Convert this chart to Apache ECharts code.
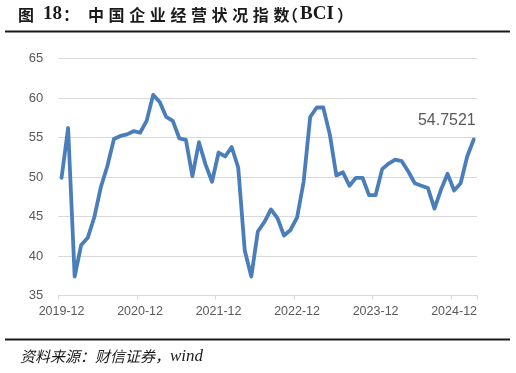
<!DOCTYPE html>
<html>
<head>
<meta charset="utf-8">
<script src="https://cdn.jsdelivr.net/npm/echarts@6/dist/echarts.min.js"></script>
<style>
html,body{margin:0;padding:0;background:#fff;}
#c{width:516px;height:373px;}
</style>
</head>
<body>
<div id="c"></div>
<script>
// ---- data ----
const categories = [
'2019-12',
'2020-01','2020-02','2020-03','2020-04','2020-05','2020-06','2020-07','2020-08','2020-09','2020-10','2020-11','2020-12',
'2021-01','2021-02','2021-03','2021-04','2021-05','2021-06','2021-07','2021-08','2021-09','2021-10','2021-11','2021-12',
'2022-01','2022-02','2022-03','2022-04','2022-05','2022-06','2022-07','2022-08','2022-09','2022-10','2022-11','2022-12',
'2023-01','2023-02','2023-03','2023-04','2023-05','2023-06','2023-07','2023-08','2023-09','2023-10','2023-11','2023-12',
'2024-01','2024-02','2024-03','2024-04','2024-05','2024-06','2024-07','2024-08','2024-09','2024-10','2024-11','2024-12',
'2025-01','2025-02','2025-03'
];
const bciValues = [
49.9,
56.2,37.4,41.4,42.3,44.9,48.7,51.4,54.8,55.2,55.4,55.8,55.6,
57.1,60.4,59.5,57.6,57.1,54.9,54.7,50.1,54.4,51.6,49.4,53.1,
52.6,53.8,51.2,40.7,37.4,43.1,44.3,45.9,44.8,42.6,43.3,44.9,
49.4,57.6,58.8,58.8,55.4,50.2,50.6,48.9,49.9,49.9,47.7,47.7,
51.0,51.7,52.2,52.0,50.7,49.2,48.9,48.6,46.0,48.4,50.4,48.3,
49.2,52.6,54.7521
];
const yTicks = {min: 35, max: 65, interval: 5};
const titleParts = ['图', '18', '：', '中','国','企','业','经','营','状','况','指','数', '（', 'BCI', '）'];
const sourceText = '资料来源：财信证券，';
const sourceLatin = 'wind';

// ---- chart ----
const chart = echarts.init(document.getElementById('c'), null, {renderer: 'canvas'});

const lastIdx = bciValues.length - 1;

// title characters placed individually (wide spacing in reference)
const titleX = [18, 43, 63, 88, 108.6, 129.2, 149.8, 170.4, 191, 211.6, 232.2, 252.8, 273.4, 282, 300, 337];
const graphics = [];
titleParts.forEach((t, k) => {
  const latin = /^[0-9A-Z]+$/.test(t);
  graphics.push({
    type: 'text', left: titleX[k], top: latin ? 5 : 7,
    style: {
      text: t,
      font: (latin ? 'bold 19px "Liberation Serif", serif' : 'bold 16px "Noto Sans CJK SC", sans-serif'),
      fill: '#1a1a1a'
    }
  });
});
graphics.push({type: 'rect', shape: {x: 5, y: 30.5, width: 505, height: 2}, style: {fill: '#1a1a1a'}});
graphics.push({type: 'rect', shape: {x: 5, y: 338.5, width: 505, height: 2}, style: {fill: '#1a1a1a'}});
graphics.push({
  type: 'text', left: 20, top: 348,
  style: {
    text: '{a|' + sourceText + '}{b|' + sourceLatin + '}',
    rich: {
      a: {fontFamily: '"Noto Sans CJK SC", sans-serif', fontStyle: 'italic', fontSize: 15, fill: '#1a1a1a', color: '#1a1a1a'},
      b: {fontFamily: '"Liberation Serif", serif', fontStyle: 'italic', fontSize: 17, fill: '#1a1a1a', color: '#1a1a1a'}
    }
  }
});

chart.setOption({
  animation: false,
  backgroundColor: '#ffffff',
  grid: {left: 58.3, right: 39, top: 58.5, bottom: 77.5, containLabel: false},
  xAxis: {
    type: 'category',
    data: categories,
    boundaryGap: true,
    axisLine: {show: true, lineStyle: {color: '#d9d9d9', width: 1}},
    axisTick: {show: true, interval: 11, length: 4, lineStyle: {color: '#d9d9d9'}},
    axisLabel: {
      interval: 11, margin: 10, fontSize: 12.5, color: '#595959',
      fontFamily: 'Liberation Sans, Arial, sans-serif'
    },
    splitLine: {show: false}
  },
  yAxis: {
    type: 'value',
    min: yTicks.min, max: yTicks.max, interval: yTicks.interval,
    axisLine: {show: false},
    axisTick: {show: false},
    axisLabel: {margin: 15, fontSize: 13, color: '#595959', fontFamily: 'Liberation Sans, Arial, sans-serif'},
    splitLine: {show: true, lineStyle: {color: '#d9d9d9', width: 1}}
  },
  series: [{
    type: 'line',
    data: bciValues,
    symbol: 'none',
    showSymbol: false,
    smooth: false,
    lineStyle: {color: '#4a7ebb', width: 3.8, join: 'round', cap: 'round'},
    itemStyle: {color: '#4a7ebb'},
    markPoint: {
      symbol: 'circle',
      symbolSize: 0.01,
      silent: true,
      itemStyle: {color: 'rgba(0,0,0,0)'},
      data: [{coord: [lastIdx, bciValues[lastIdx]], value: bciValues[lastIdx]}],
      label: {
        show: true, position: 'top', align: 'right', distance: 0, offset: [2, -11],
        formatter: (p) => String(p.value), fontSize: 16, color: '#595959',
        fontFamily: 'Liberation Sans, Arial, sans-serif'
      }
    }
  }],
  graphic: graphics
});
</script>
</body>
</html>
